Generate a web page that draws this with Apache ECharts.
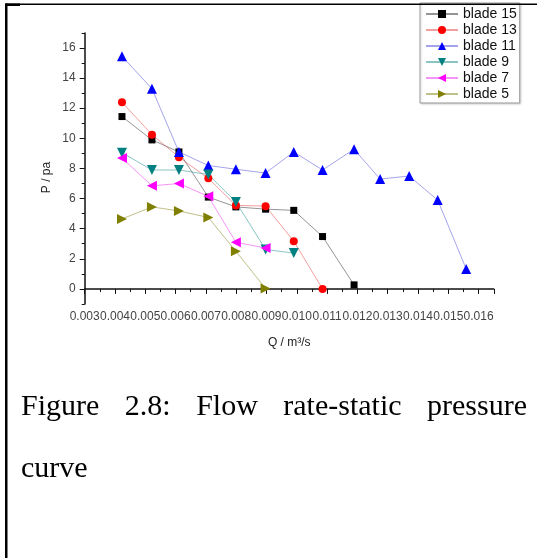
<!DOCTYPE html>
<html>
<head>
<meta charset="utf-8">
<script src="https://cdn.jsdelivr.net/npm/echarts@6/dist/echarts.min.js"></script>
<style>
  html, body { margin: 0; padding: 0; background: #fff; }
  #wrap { position: relative; width: 537px; height: 558px; overflow: hidden; }
  #chart { position: absolute; left: 0; top: 0; width: 537px; height: 558px; }
  .cap { position: absolute; left: 21px; width: 506px; font-family: "Liberation Serif", "Times New Roman", serif;
         font-size: 30px; line-height: 30px; color: #000; white-space: nowrap; }
  #cap1 { top: 390px; text-align: justify; text-align-last: justify; }
  #cap2 { top: 452px; }
</style>
</head>
<body>
<div id="wrap">
  <div id="chart"></div>
  <div class="cap" id="cap1">Figure 2.8: Flow rate-static pressure</div>
  <div class="cap" id="cap2">curve</div>
</div>
<script>
// Flow rate Q (m^3/s) at each measuring point
const flowRate = [0.00423, 0.00522, 0.00611, 0.00708, 0.00799, 0.00897, 0.00990, 0.01085, 0.01189, 0.01275, 0.01371, 0.01465, 0.01559];
// Static pressure P (pa) for each blade count
const blade15 = [11.45, 9.9, 9.1, 6.1, 5.45, 5.3, 5.22, 3.48, 0.27];
const blade13 = [12.4, 10.25, 8.75, 7.35, 5.55, 5.5, 3.17, 0.0];
const blade11 = [15.45, 13.3, 9.1, 8.2, 7.95, 7.7, 9.1, 7.9, 9.28, 7.3, 7.5, 5.9, 1.33];
const blade9  = [9.05, 7.9, 7.9, 7.6, 5.78, 2.62, 2.38];
const blade7  = [8.7, 6.85, 7.0, 6.15, 3.1, 2.72];
const blade5  = [4.65, 5.45, 5.18, 4.75, 2.5, 0.03];
const seriesNames = ['blade 15', 'blade 13', 'blade 11', 'blade 9', 'blade 7', 'blade 5'];
const yTickLabels = [0, 2, 4, 6, 8, 10, 12, 14, 16];

const pair = vals => vals.map((v, i) => [flowRate[i], v]);

const styles = [
  { color: '#000000', line: 'rgba(60,60,60,0.55)',   symbol: 'rect',     size: 7,  rot: 0 },
  { color: '#ff0000', line: 'rgba(230,80,80,0.55)',  symbol: 'circle',   size: 8,  rot: 0 },
  { color: '#0000ff', line: 'rgba(90,90,220,0.55)',  symbol: 'triangle', size: 10, rot: 0 },
  { color: '#008080', line: 'rgba(40,150,150,0.55)', symbol: 'triangle', size: 10, rot: 180 },
  { color: '#ff00ff', line: 'rgba(240,60,240,0.55)', symbol: 'triangle', size: 10, rot: 90 },
  { color: '#808000', line: 'rgba(140,140,40,0.55)', symbol: 'triangle', size: 10, rot: -90 }
];
const dataSets = [blade15, blade13, blade11, blade9, blade7, blade5];

const chart = echarts.init(document.getElementById('chart'), null, { renderer: 'canvas' });

const series = dataSets.map((d, i) => ({
  name: seriesNames[i],
  type: 'line',
  xAxisIndex: 0,
  yAxisIndex: 0,
  data: pair(d),
  symbol: styles[i].symbol,
  symbolSize: styles[i].size,
  symbolRotate: styles[i].rot,
  itemStyle: { color: styles[i].color },
  lineStyle: { color: styles[i].line, width: 1 },
  emphasis: { disabled: true },
  animation: false
}));

const isThousandth = v => Math.abs(v * 1000 - Math.round(v * 1000)) < 1e-6;

chart.setOption({
  backgroundColor: 'transparent',
  animation: false,
  grid: [
    { left: 84.7, right: 43.25, top: 33, bottom: 254 },
    { left: 84.7, right: 43.25, top: 47.9, bottom: 269.1 }
  ],
  xAxis: [
    {
      type: 'value', gridIndex: 0, min: 0.003, max: 0.0165, interval: 0.001,
      name: 'Q / m³/s', nameLocation: 'middle', nameGap: 33,
      nameTextStyle: { fontFamily: 'Liberation Sans, Arial', fontSize: 12, color: '#222' },
      axisLine: { show: true, lineStyle: { color: '#111', width: 1.5 } },
      axisTick: { show: true, length: 5, lineStyle: { color: '#111' } },
      minorTick: { show: true, splitNumber: 2, length: 3, lineStyle: { color: '#111' } },
      splitLine: { show: false },
      axisLabel: {
        margin: 7, fontFamily: 'Liberation Sans, Arial', fontSize: 12, color: '#444',
        formatter: v => (isThousandth(v) && v <= 0.01600001) ? v.toFixed(3) : ''
      }
    },
    { type: 'value', gridIndex: 1, min: 0.003, max: 0.0165, show: false }
  ],
  yAxis: [
    {
      type: 'value', gridIndex: 0, min: -1, max: 17, interval: 18,
      axisLine: { show: true, lineStyle: { color: '#111', width: 1.5 } },
      axisTick: { show: true, length: 3, lineStyle: { color: '#111' } },
      axisLabel: { show: false },
      splitLine: { show: false }
    },
    {
      type: 'value', gridIndex: 1, min: yTickLabels[0], max: yTickLabels[yTickLabels.length - 1], interval: 2,
      axisLine: { show: false },
      axisTick: { show: true, length: 5, lineStyle: { color: '#111' } },
      minorTick: { show: true, splitNumber: 2, length: 3, lineStyle: { color: '#111' } },
      axisLabel: { margin: 9, fontFamily: 'Liberation Sans, Arial', fontSize: 12, color: '#444' },
      splitLine: { show: false }
    }
  ],
  legend: {
    data: seriesNames,
    orient: 'vertical',
    left: 420, top: 3,
    padding: [4, 3, 2, 5],
    itemWidth: 32, itemHeight: 10, itemGap: 2, itemTextGap: 5,
    backgroundColor: '#fff',
    borderColor: '#999', borderWidth: 1,
    shadowColor: 'rgba(0,0,0,0.15)', shadowBlur: 2, shadowOffsetX: 1, shadowOffsetY: 1,
    selectedMode: false,
    textStyle: { fontFamily: 'Liberation Sans, Arial', fontSize: 14, color: '#111' }
  },
  graphic: [
    {
      type: 'text', x: 46.5, y: 177.5, rotation: Math.PI / 2,
      style: { text: 'P / pa', font: '12px "Liberation Sans", Arial', fill: '#222', align: 'center', verticalAlign: 'middle' }
    },
    { type: 'rect', z: 100, shape: { x: 6, y: 3.5, width: 531, height: 1.5 }, style: { fill: '#000' } },
    { type: 'rect', z: 100, shape: { x: 5, y: 3.5, width: 15, height: 2.5 }, style: { fill: '#000' } },
    { type: 'rect', z: 100, shape: { x: 5, y: 3.5, width: 2.5, height: 555 }, style: { fill: '#000' } }
  ],
  series: series
});
</script>
</body>
</html>
